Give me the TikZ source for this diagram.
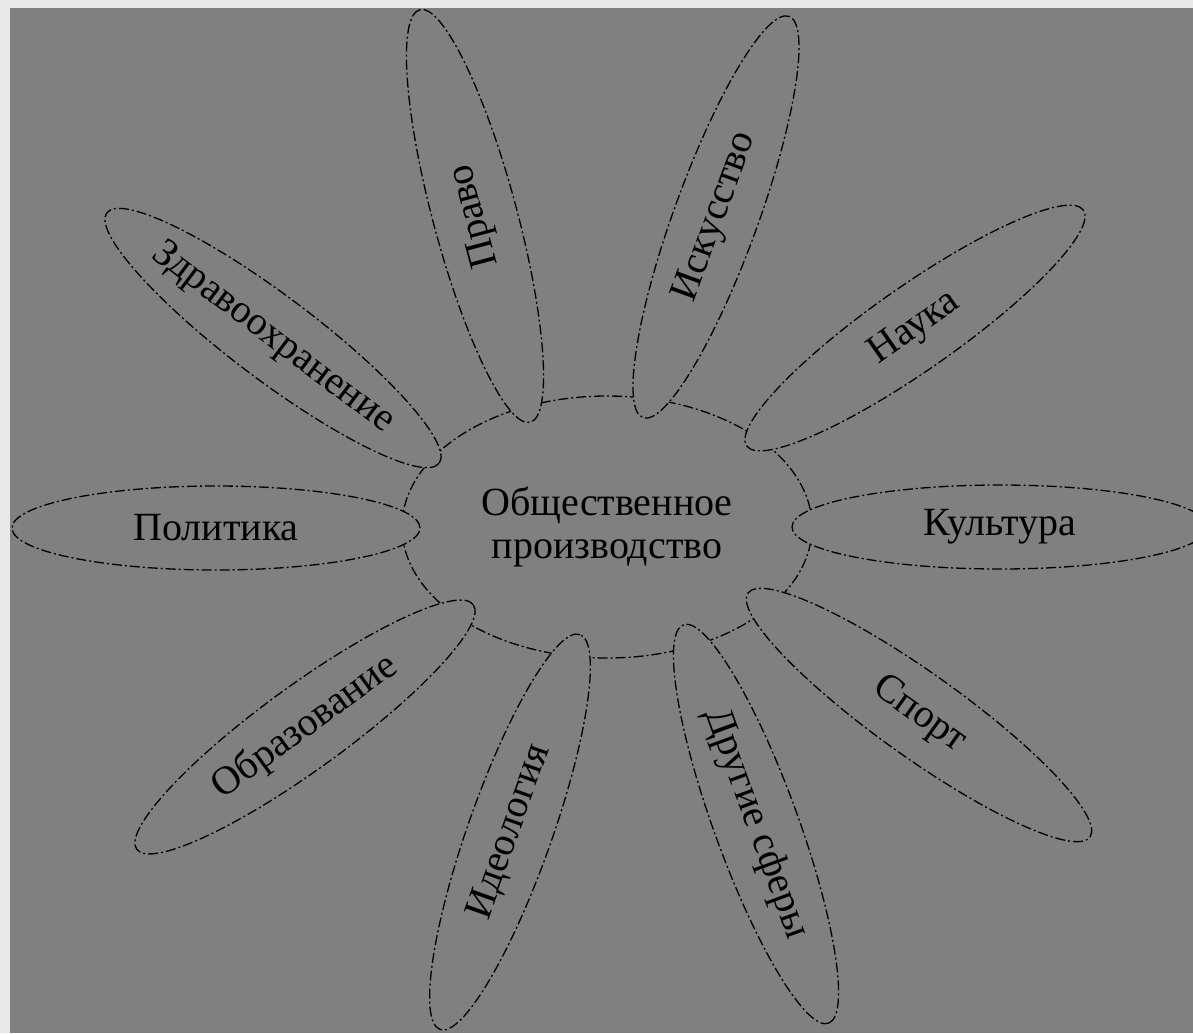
\documentclass[tikz,border=0pt]{standalone}
\usepackage{fontspec}
\setmainfont{Liberation Serif}
\usepackage{tikz}
\usetikzlibrary{positioning,shapes.geometric}
\definecolor{slate}{RGB}{128,128,128}
\definecolor{marble}{RGB}{232,232,232}
\tikzset{
    every picture/.style={line width=1.3pt},
    brokenline/.style={draw=black,dash pattern=on 10pt off 3pt on 2pt off 3pt},
    hub/.style={ellipse,brokenline,fill=slate,inner sep=0pt,minimum width=410pt,minimum height=262pt,align=center,font=\fontsize{40}{43}\selectfont},
    petal/.style={ellipse,brokenline,fill=slate,inner sep=0pt,minimum height=84pt,font=\fontsize{40}{44}\selectfont}
}

\begin{document}
\begin{tikzpicture}[x=1pt,y=-1pt]
        \useasboundingbox (0,0) rectangle (1193,1033);
        % Background
        \fill[marble] (0,0) rectangle (1193,1033);
        \fill[slate] (10,8) rectangle (1193,1033);

        % Centre
        \node[hub] (hub) at (607,527) {Общественное\\производство};

        % Petals
        \foreach \name/\x/\y/\ang/\len/\txt in {
            pravo/475/216/105/427/Право,
            iskusstvo/716/217/70/427/Искусство,
            nauka/915/328/35/411/Наука,
            kultura/1000/527/0/416/Культура,
            sport/919/715/-35.5/420/Спорт,
            drugie/756/824/-70/424/Другие сферы,
            ideologia/510/832/70.5/419/Идеология,
            obrazovanie/305/727/36/416/Образование,
            politika/216/528/0/408/Политика,
            zdrav/273/338/-37/416/Здравоохранение
        } {
            \node[petal,rotate=\ang,minimum width=\len pt] (\name) at (\x,\y) {\txt};
        }
    \end{tikzpicture}
\end{document}
